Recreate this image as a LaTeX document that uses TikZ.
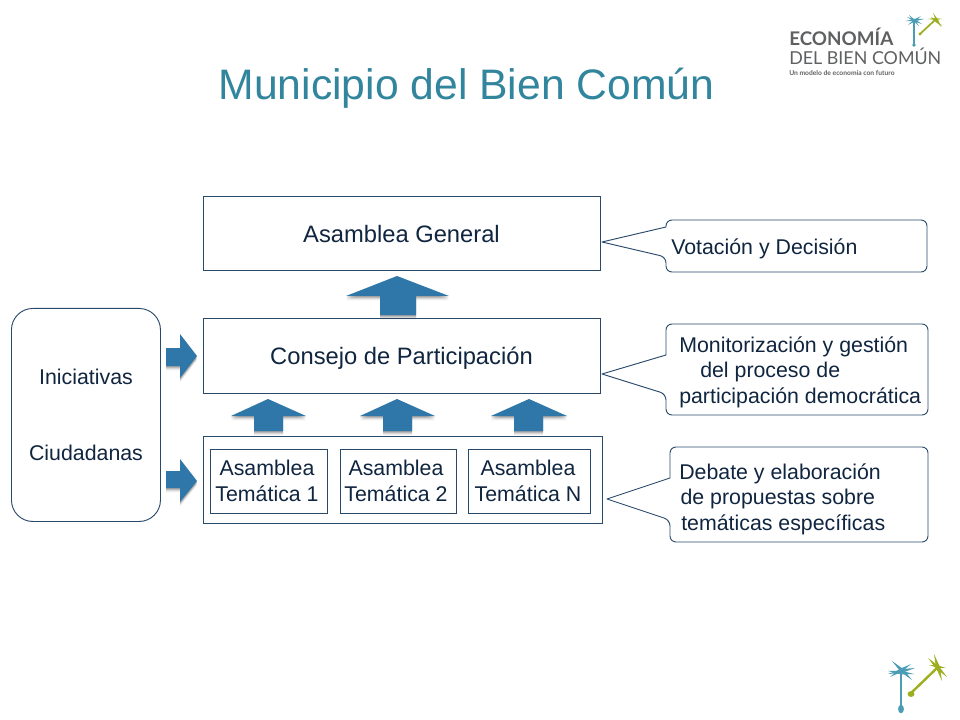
\documentclass[tikz,border=0pt]{standalone}
\usepackage{fontspec}
\usepackage{graphicx}
\setmainfont{Liberation Sans}
\newfontfamily\logofont{Lato}
\usetikzlibrary{calc}
\definecolor{titleblue}{HTML}{31859C}
\definecolor{inkblue}{HTML}{10253F}
\definecolor{lineblue}{HTML}{2A4A6B}
\definecolor{arrowblue}{HTML}{2F77A8}
\definecolor{palmteal}{HTML}{4A9DB5}
\definecolor{palmolive}{HTML}{9DAE1E}
\definecolor{logogray}{HTML}{5F6062}
\tikzset{
  x=.75pt,y=-.75pt,
  boxline/.style={draw=lineblue,line width=.8pt,fill=white},
  softbox/.style={draw=lineblue,line width=.7pt,fill=white,line join=round},
  bigtext/.style={font=\fontsize{17.8}{22}\selectfont,text=inkblue,inner sep=0pt},
  bodytext/.style={font=\fontsize{16}{18.9}\selectfont,text=inkblue,inner sep=0pt},
  calltext/.style={bodytext,anchor=base west,align=left},
  logotext/.style={text=logogray,inner sep=0pt,anchor=base west},
}
\newcommand{\blockarrow}[1]{%
  \foreach \s/\o in {3.2pt/.06,2.4pt/.09,1.6pt/.12,.8pt/.15}{%
    \fill[black,opacity=\o,yshift=-\s] #1;}
  \fill[arrowblue] #1;}
\newcommand{\frond}[3]{\fill[#1] #2 -- ($#2!.5!#3!.14!90:#3$) -- #3 -- ($#2!.5!#3!.14!-90:#3$) -- cycle;}
\begin{document}
\begin{tikzpicture}
\useasboundingbox (0,0) rectangle (960,720);
\fill[white] (0,0) rectangle (960,720);

% title
\node[font=\fontsize{32}{38}\selectfont,text=titleblue,anchor=base,inner sep=0pt] (title) at (466.5,100) {Municipio del Bien Común};

% left panel
\node[softbox,rounded corners=16pt,minimum width=111.75pt,minimum height=159.75pt,anchor=north west] (panel) at (11,308) {};
\node[bodytext,anchor=base] (ini) at (86,384) {Iniciativas};
\node[bodytext,anchor=base] (ciu) at (86,460) {Ciudadanas};

% main boxes
\node[boxline,minimum width=297.75pt,minimum height=55.5pt,anchor=north west] (general) at (203,196) {};
\node[bigtext,anchor=base] (generalt) at (401.5,243) {Asamblea General};
\node[boxline,minimum width=297.75pt,minimum height=56.25pt,anchor=north west] (consejo) at (203,318) {};
\node[bigtext,anchor=base] (consejot) at (401.5,364) {Consejo de Participación};
\node[boxline,minimum width=299.25pt,minimum height=65.25pt,anchor=north west] (outer) at (203,436) {};
\node[boxline,minimum width=87.75pt,minimum height=48pt,anchor=north west] (tema1) at (210,449) {};
\node[boxline,minimum width=87pt,minimum height=48pt,anchor=north west] (tema2) at (340,449) {};
\node[boxline,minimum width=91.5pt,minimum height=48pt,anchor=north west] (temaN) at (468,449) {};
\node[bodytext,anchor=base,align=center] (tema1t) at (267,501) {Asamblea\\Temática 1};
\node[bodytext,anchor=base,align=center] (tema2t) at (396,501) {Asamblea\\Temática 2};
\node[bodytext,anchor=base,align=center] (temaNt) at (528,501) {Asamblea\\Temática N};

% block arrows
\blockarrow{(397,276) -- (449,296) -- (416,296) -- (416,315) -- (380,315) -- (380,296) -- (346,296) -- cycle}
\blockarrow{(268,399) -- (306,416) -- (283,416) -- (283,431) -- (254,431) -- (254,416) -- (231,416) -- cycle}
\blockarrow{(397,399) -- (435,416) -- (412,416) -- (412,431) -- (383,431) -- (383,416) -- (360,416) -- cycle}
\blockarrow{(529,399) -- (567,416) -- (543,416) -- (543,431) -- (514,431) -- (514,416) -- (491,416) -- cycle}
\blockarrow{(197,356) -- (180,378) -- (180,366) -- (166,366) -- (166,348) -- (180,348) -- (180,334) -- cycle}
\blockarrow{(197,481) -- (180,502) -- (180,488) -- (166,488) -- (166,471) -- (180,471) -- (180,459) -- cycle}

% callouts
\draw[softbox,rounded corners=4.5pt] (666,227) -- (666,220) -- (927,220) -- (927,272) -- (666,272) -- (666,257) [sharp corners] -- (602,242) -- cycle;
\draw[softbox,rounded corners=4.5pt] (666,355) -- (666,324) -- (928,324) -- (928,415) -- (666,415) -- (666,394) [sharp corners] -- (602,374) -- cycle;
\draw[softbox,rounded corners=4.5pt] (670,478) -- (670,447) -- (928,447) -- (928,542) -- (670,542) -- (670,520) [sharp corners] -- (607,499) -- cycle;
\node[calltext] (c1) at (671,255) {Votación y Decisión};
\node[calltext] (c2) at (679,403) {Monitorización y gestión\\\hspace*{15.75pt}del proceso de\\participación democrática};
\node[calltext] (c3) at (679,530) {Debate y elaboración\\\hspace*{1pt}de propuestas sobre\\\hspace*{1.5pt}temáticas específicas};

% top logo
\node[logotext] (logoa) at (789,46) {\resizebox{78pt}{!}{\logofont\bfseries ECONOMÍA}};
\node[logotext] (logob) at (789,65) {\resizebox{114pt}{!}{\logofont DEL BIEN COMÚN}};
\node[logotext] (logoc) at (789,76) {\resizebox{79pt}{!}{\logofont\bfseries Un modelo de economía con futuro}};
\draw[palmteal,line width=1.3pt] (914,20) -- (914,44);
\fill[palmteal] (914,45) circle (1.4pt);
\frond{palmteal}{(906,21)}{(924,19)}
\frond{palmteal}{(907,17)}{(922,24)}
\frond{palmteal}{(909,15)}{(919,26)}
\frond{palmteal}{(908,25)}{(921,16)}
\draw[palmolive,line width=1.3pt] (920,34) -- (935,20);
\fill[palmolive] (920,34) circle (1.3pt);
\frond{palmolive}{(931,17)}{(942,26)}
\frond{palmolive}{(933,13)}{(941,27)}
\frond{palmolive}{(928,19)}{(942,19)}

% bottom logo
\draw[palmteal,line width=1.6pt] (901,672) -- (901,708);
\fill[palmteal] (901,709) ellipse (2.2pt and 3.2pt);
\frond{palmteal}{(888,674)}{(915,668)}
\frond{palmteal}{(888,671)}{(914,674)}
\frond{palmteal}{(892,661)}{(912,680)}
\frond{palmteal}{(890,677)}{(911,664)}
\draw[palmolive,line width=1.8pt] (910,694) -- (937,668);
\fill[palmolive] (911,694) ellipse (2.6pt and 2.2pt);
\frond{palmolive}{(928,658)}{(947,677)}
\frond{palmolive}{(934,654)}{(942,681)}
\frond{palmolive}{(929,665)}{(946,668)}
\end{tikzpicture}
\end{document}
